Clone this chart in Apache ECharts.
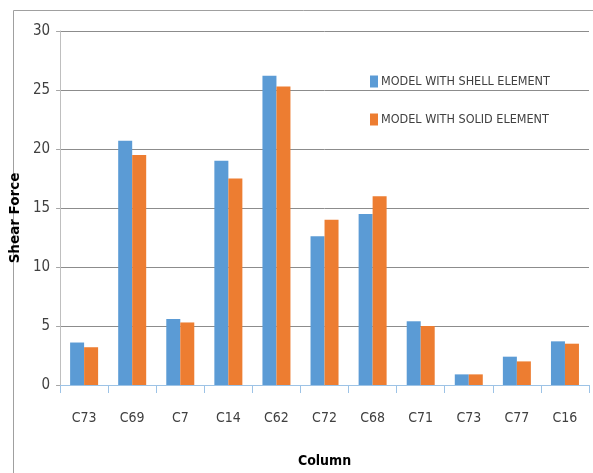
<!DOCTYPE html>
<html>
<head>
<meta charset="utf-8">
<script src="https://cdn.jsdelivr.net/npm/echarts@6/dist/echarts.min.js"></script>
<style>
  html, body { margin: 0; padding: 0; background: #fff; }
  #chart { width: 593px; height: 473px; }
</style>
</head>
<body>
<div id="chart"></div>
<script>
// Shear force per column, two modelling approaches
const columns = ['C73', 'C69', 'C7', 'C14', 'C62', 'C72', 'C68', 'C71', 'C73', 'C77', 'C16'];
const shellValues = [3.6, 20.7, 5.6, 19.0, 26.2, 12.6, 14.5, 5.4, 0.9, 2.4, 3.7];
const solidValues = [3.2, 19.5, 5.3, 17.5, 25.3, 14.0, 16.0, 5.0, 0.9, 2.0, 3.5];
const seriesNames = ['MODEL WITH SHELL ELEMENT', 'MODEL WITH SOLID ELEMENT'];
const yTicks = { min: 0, max: 30, interval: 5 };

const narrow = '"DejaVu Sans Condensed", "Liberation Sans Narrow", "Liberation Sans", sans-serif';

const chart = echarts.init(document.getElementById('chart'), null, { renderer: 'canvas' });

chart.setOption({
  animation: false,
  backgroundColor: '#ffffff',
  graphic: [
    { type: 'line', silent: true, shape: { x1: 13.5, y1: 10.5, x2: 593, y2: 10.5 }, style: { stroke: '#a0a0a0', lineWidth: 1 } },
    { type: 'line', silent: true, shape: { x1: 13.5, y1: 10.5, x2: 13.5, y2: 473 }, style: { stroke: '#a0a0a0', lineWidth: 1 } }
  ],
  grid: { left: 56, top: 31, right: 4, bottom: 83, containLabel: false },
  legend: {
    orient: 'vertical',
    left: 365,
    top: 70,
    itemWidth: 8,
    itemHeight: 12,
    itemGap: 25,
    icon: 'rect',
    textStyle: { fontFamily: narrow, fontSize: 12.5, color: '#404040', padding: [0, 0, 0, -2] },
    data: seriesNames
  },
  xAxis: {
    type: 'category',
    data: columns,
    name: 'Column',
    nameLocation: 'middle',
    nameGap: 69,
    nameTextStyle: { fontFamily: narrow, fontSize: 14, fontWeight: 'bold', color: '#000' },
    axisLine: { lineStyle: { color: '#9dc3e6', width: 1 } },
    axisTick: { show: true, length: 8, alignWithLabel: false, lineStyle: { color: '#9dc3e6' } },
    axisLabel: { fontFamily: narrow, fontSize: 14, color: '#404040', margin: 26 },
    splitLine: { show: false }
  },
  yAxis: {
    type: 'value',
    min: yTicks.min,
    max: yTicks.max,
    interval: yTicks.interval,
    name: 'Shear Force',
    nameLocation: 'middle',
    nameRotate: 90,
    nameGap: 30,
    nameTextStyle: { fontFamily: '"DejaVu Sans", sans-serif', fontSize: 13.5, fontWeight: 'bold', color: '#000', padding: [0, 20, 0, 0] },
    axisLine: { show: true, lineStyle: { color: '#bfbfbf', width: 1 } },
    axisTick: { show: true, length: 4, inside: false, lineStyle: { color: '#a6a6a6' } },
    axisLabel: { fontFamily: narrow, fontSize: 15, color: '#404040', margin: 10 },
    splitLine: { show: true, lineStyle: { color: '#8c8c8c', width: 1 } }
  },
  series: [
    {
      name: seriesNames[0],
      type: 'bar',
      data: shellValues,
      barWidth: 14,
      barGap: '0%',
      itemStyle: { color: '#5b9bd5' }
    },
    {
      name: seriesNames[1],
      type: 'bar',
      data: solidValues,
      barWidth: 14,
      barGap: '0%',
      itemStyle: { color: '#ed7d31' }
    }
  ]
});
</script>
</body>
</html>
